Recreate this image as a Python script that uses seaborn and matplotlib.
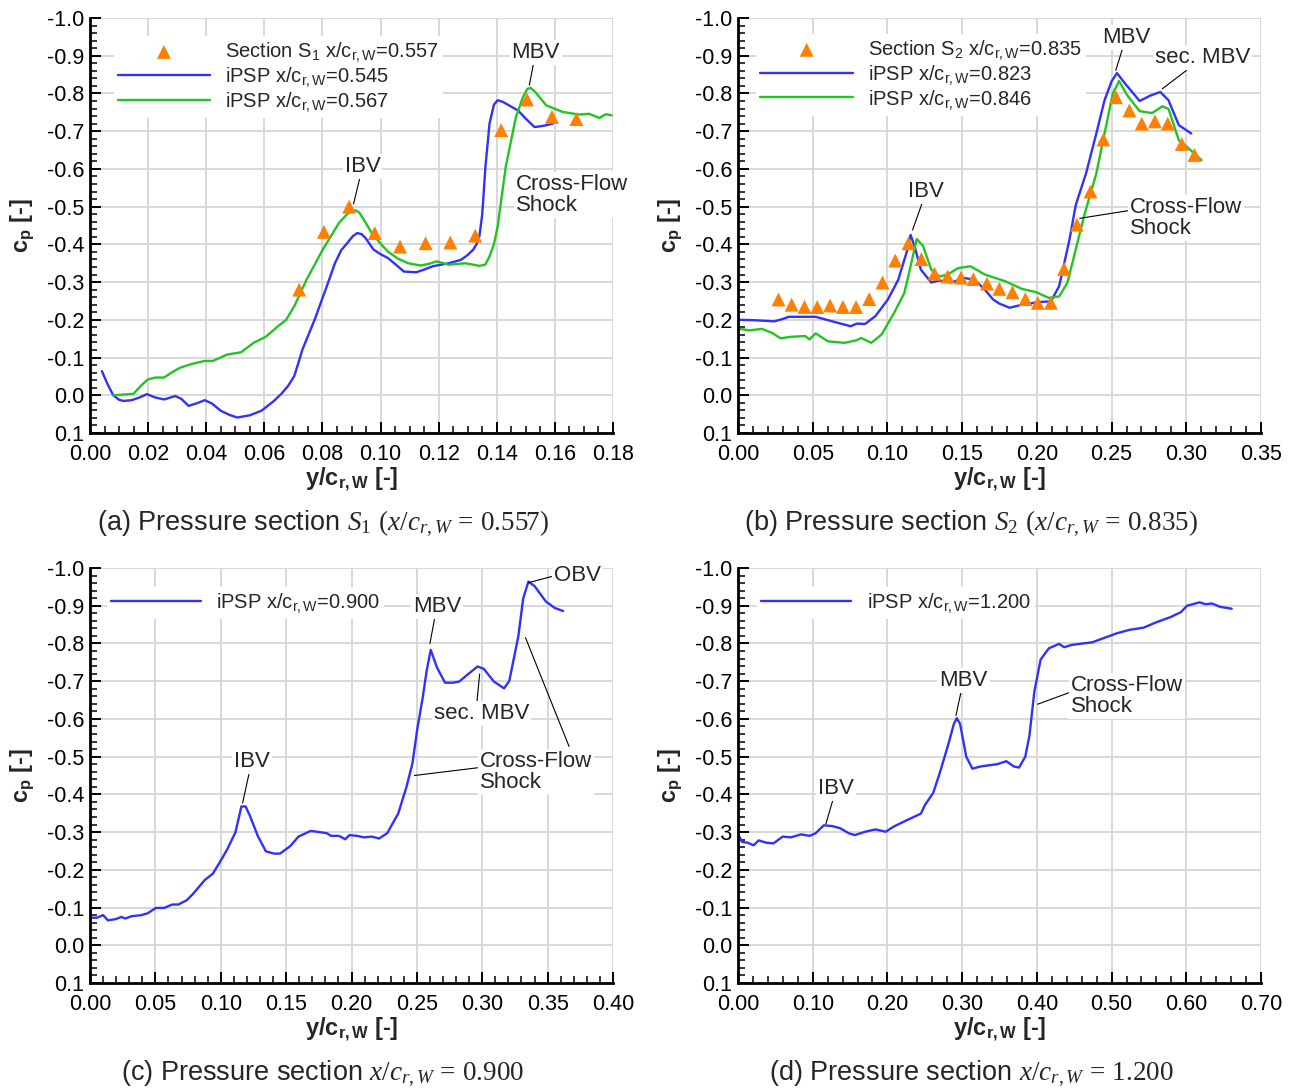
import numpy as np
import pandas as pd
import matplotlib
matplotlib.use("Agg")
import matplotlib.pyplot as plt
from matplotlib.ticker import MultipleLocator, FuncFormatter
import seaborn as sns

# ---------------- data ----------------
# Panel (a): section S1
a_blue_x = [0.0041, 0.006, 0.008, 0.0100, 0.0115, 0.0143, 0.017, 0.0196, 0.0225, 0.0255, 0.0294, 0.0315,
            0.0339, 0.0365, 0.0395, 0.042, 0.045, 0.048, 0.0507, 0.055, 0.059, 0.0633, 0.066, 0.0682,
            0.0703, 0.0717, 0.0731, 0.0773, 0.0815, 0.0843, 0.0865, 0.0885, 0.0905, 0.092, 0.0935,
            0.0948, 0.0976, 0.1, 0.1025, 0.105, 0.108, 0.1123, 0.115, 0.118, 0.1235, 0.1277, 0.130,
            0.1319, 0.133, 0.134, 0.135, 0.1361, 0.1375, 0.139, 0.1403, 0.142, 0.1473, 0.150, 0.153,
            0.156, 0.1593]
a_blue_y = [-0.064, -0.03, 0.0, 0.012, 0.015, 0.013, 0.006, -0.003, 0.006, 0.011, 0.002, 0.010,
            0.028, 0.022, 0.013, 0.022, 0.041, 0.052, 0.059, 0.053, 0.041, 0.015, -0.005, -0.025,
            -0.051, -0.085, -0.121, -0.2, -0.289, -0.35, -0.385, -0.403, -0.422, -0.43, -0.427,
            -0.417, -0.386, -0.374, -0.364, -0.348, -0.328, -0.326, -0.333, -0.342, -0.35, -0.359, -0.372,
            -0.386, -0.400, -0.421, -0.48, -0.606, -0.72, -0.77, -0.782, -0.778, -0.755, -0.733, -0.711,
            -0.714, -0.72]
a_green_x = [0.008, 0.015, 0.0175, 0.0199, 0.0225, 0.0255, 0.028, 0.031, 0.035, 0.0395, 0.0423, 0.0472,
             0.052, 0.0563, 0.0605, 0.0647, 0.0675, 0.0703, 0.0745, 0.0801, 0.0857, 0.0885, 0.0899,
             0.0915, 0.0927, 0.0945, 0.0969, 0.1, 0.1025, 0.106, 0.1095, 0.1137, 0.1165, 0.1193,
             0.1235, 0.1291, 0.132, 0.134, 0.136, 0.1375, 0.139, 0.1403, 0.1431, 0.1466, 0.149,
             0.1505, 0.1515, 0.153, 0.1571, 0.1627, 0.1683, 0.1718, 0.1753, 0.1775, 0.1795]
a_green_y = [0.0, -0.004, -0.025, -0.042, -0.047, -0.047, -0.06, -0.073, -0.083, -0.091, -0.091, -0.108,
             -0.114, -0.139, -0.155, -0.183, -0.2, -0.236, -0.306, -0.386, -0.457, -0.48, -0.488,
             -0.49, -0.484, -0.462, -0.431, -0.402, -0.381, -0.362, -0.35, -0.344, -0.348, -0.355,
             -0.346, -0.35, -0.346, -0.343, -0.346, -0.368, -0.40, -0.447, -0.606, -0.738, -0.79,
             -0.812, -0.815, -0.806, -0.768, -0.751, -0.744, -0.746, -0.735, -0.745, -0.742]
a_exp_x = [0.072, 0.0805, 0.0892, 0.098, 0.1067, 0.1155, 0.124, 0.1326, 0.1415, 0.1504, 0.159, 0.1674]
a_exp_y = [-0.28, -0.433, -0.5, -0.43, -0.394, -0.403, -0.405, -0.423, -0.703, -0.784, -0.738, -0.732]

# Panel (b): section S2
b_blue_x = [0.0008, 0.0105, 0.0243, 0.0298, 0.034, 0.052, 0.063, 0.0754, 0.0796, 0.085, 0.092,
            0.1003, 0.1072, 0.1127, 0.1155, 0.1182, 0.1224, 0.1293, 0.1348, 0.143, 0.1514,
            0.1583, 0.1652, 0.1707, 0.1749, 0.1818, 0.19, 0.201, 0.2094, 0.2149, 0.2218, 0.226,
            0.2329, 0.2398, 0.2453, 0.250, 0.2536, 0.2591, 0.2688, 0.2757, 0.2826, 0.2881, 0.295, 0.3033]
b_blue_y = [-0.2, -0.199, -0.196, -0.202, -0.208, -0.208, -0.196, -0.183, -0.19, -0.189, -0.21,
            -0.254, -0.306, -0.377, -0.425, -0.394, -0.333, -0.299, -0.304, -0.299, -0.311,
            -0.306, -0.28, -0.254, -0.243, -0.232, -0.24, -0.247, -0.249, -0.289, -0.412, -0.504,
            -0.588, -0.694, -0.782, -0.832, -0.854, -0.826, -0.78, -0.794, -0.804, -0.782, -0.716, -0.694]
b_green_x = [0.0008, 0.0077, 0.016, 0.0229, 0.0285, 0.0354, 0.045, 0.0478, 0.052, 0.0602, 0.0713,
             0.0796, 0.0823, 0.0892, 0.0961, 0.1044, 0.1113, 0.1155, 0.1196, 0.1238, 0.1293,
             0.1348, 0.1403, 0.1472, 0.1555, 0.1652, 0.179, 0.19, 0.1997, 0.208, 0.2149, 0.2204,
             0.226, 0.2315, 0.2398, 0.2453, 0.2508, 0.255, 0.2605, 0.2688, 0.2771, 0.284, 0.2881,
             0.295, 0.3006, 0.3102]
b_green_y = [-0.176, -0.172, -0.176, -0.165, -0.151, -0.155, -0.157, -0.148, -0.164, -0.143, -0.139,
             -0.146, -0.152, -0.139, -0.161, -0.218, -0.271, -0.342, -0.414, -0.396, -0.333,
             -0.315, -0.32, -0.337, -0.342, -0.32, -0.302, -0.282, -0.273, -0.258, -0.262, -0.298,
             -0.386, -0.474, -0.588, -0.694, -0.799, -0.833, -0.795, -0.753, -0.748, -0.766, -0.759,
             -0.676, -0.658, -0.623]
b_exp_x = [0.0271, 0.0359, 0.0445, 0.053, 0.0616, 0.0702, 0.079, 0.0878, 0.0967, 0.1052, 0.1141,
           0.1227, 0.1315, 0.1403, 0.1492, 0.1575, 0.1666, 0.1749, 0.1837, 0.1923, 0.2006, 0.2094,
           0.2182, 0.2268, 0.2359, 0.2445, 0.253, 0.2619, 0.2702, 0.279, 0.2876, 0.297, 0.3055]
b_exp_y = [-0.254, -0.24, -0.234, -0.234, -0.238, -0.234, -0.234, -0.255, -0.299, -0.357, -0.403,
           -0.361, -0.322, -0.315, -0.312, -0.308, -0.296, -0.282, -0.273, -0.255, -0.245, -0.245,
           -0.335, -0.452, -0.54, -0.678, -0.79, -0.755, -0.72, -0.726, -0.72, -0.666, -0.637]

# Panel (c): x/c = 0.900
c_x = [0.0, 0.0053, 0.01, 0.0137, 0.0193, 0.024, 0.0271, 0.0318, 0.0395, 0.0442, 0.0504, 0.0567,
       0.0629, 0.0676, 0.0738, 0.0785, 0.0878, 0.094, 0.1003, 0.1049, 0.1112, 0.1158, 0.119,
       0.1221, 0.1283, 0.1345, 0.1407, 0.1454, 0.1532, 0.1594, 0.1687, 0.1734, 0.1812, 0.1843,
       0.1905, 0.1952, 0.1984, 0.2046, 0.2092, 0.2155, 0.2211, 0.2273, 0.2357, 0.2419, 0.2466,
       0.2503, 0.2544, 0.2575, 0.2606, 0.2653, 0.2715, 0.2777, 0.2824, 0.2886, 0.2964, 0.3011,
       0.3089, 0.3167, 0.3207, 0.3276, 0.3313, 0.3353, 0.34, 0.3487, 0.3555, 0.3618]
c_y = [-0.073, -0.073, -0.08, -0.066, -0.069, -0.075, -0.071, -0.077, -0.08, -0.085, -0.099, -0.099,
       -0.108, -0.108, -0.119, -0.135, -0.173, -0.19, -0.226, -0.254, -0.299, -0.368, -0.368,
       -0.345, -0.29, -0.249, -0.243, -0.243, -0.263, -0.288, -0.303, -0.301, -0.297, -0.29,
       -0.29, -0.281, -0.292, -0.29, -0.286, -0.288, -0.283, -0.297, -0.349, -0.418, -0.482,
       -0.573, -0.655, -0.728, -0.783, -0.737, -0.696, -0.696, -0.699, -0.717, -0.739, -0.733,
       -0.699, -0.681, -0.701, -0.819, -0.919, -0.964, -0.952, -0.911, -0.894, -0.886]

# Panel (d): x/c = 1.200
d_x = [0.0006, 0.0055, 0.0127, 0.021, 0.0276, 0.0376, 0.0475, 0.0597, 0.0707, 0.0845, 0.0956,
       0.1039, 0.1149, 0.126, 0.137, 0.1481, 0.1564, 0.1702, 0.184, 0.1978, 0.2088, 0.2254,
       0.2448, 0.2503, 0.2613, 0.2696, 0.2807, 0.289, 0.2928, 0.2972, 0.3055, 0.3138, 0.3249,
       0.3359, 0.347, 0.3591, 0.3691, 0.3762, 0.3845, 0.39, 0.3967, 0.405, 0.416, 0.4298,
       0.4365, 0.4464, 0.4575, 0.474, 0.4906, 0.5072, 0.5238, 0.5431, 0.5597, 0.579, 0.5928,
       0.6011, 0.6177, 0.626, 0.6343, 0.6453, 0.6608]
d_y = [-0.292, -0.274, -0.272, -0.265, -0.278, -0.272, -0.27, -0.288, -0.286, -0.294, -0.29,
       -0.297, -0.318, -0.316, -0.31, -0.297, -0.292, -0.301, -0.307, -0.301, -0.315, -0.331,
       -0.349, -0.372, -0.404, -0.454, -0.527, -0.587, -0.602, -0.587, -0.5, -0.468, -0.474,
       -0.477, -0.48, -0.488, -0.474, -0.471, -0.5, -0.555, -0.673, -0.757, -0.787, -0.799,
       -0.79, -0.796, -0.799, -0.803, -0.815, -0.827, -0.836, -0.842, -0.856, -0.87, -0.883,
       -0.9, -0.909, -0.904, -0.906, -0.897, -0.892]

xmax = [0.18, 0.35, 0.40, 0.70]
xmajor = [0.02, 0.05, 0.05, 0.10]
xminor = [0.005, 0.01, 0.01, 0.02]

lab_a = ["Section S$_\\mathsf{1}$ x/c$_\\mathsf{r,W}$=0.557",
         "iPSP x/c$_\\mathsf{r,W}$=0.545", "iPSP x/c$_\\mathsf{r,W}$=0.567"]
lab_b = ["Section S$_\\mathsf{2}$ x/c$_\\mathsf{r,W}$=0.835",
         "iPSP x/c$_\\mathsf{r,W}$=0.823", "iPSP x/c$_\\mathsf{r,W}$=0.846"]
lab_c = "iPSP x/c$_\\mathsf{r,W}$=0.900"
lab_d = "iPSP x/c$_\\mathsf{r,W}$=1.200"
captions = ["(a) Pressure section $S_1$ $(x/c_{r,W}\\,=\\,0.557)$",
            "(b) Pressure section $S_2$ $(x/c_{r,W}\\,=\\,0.835)$",
            "(c) Pressure section $x/c_{r,W}\\,=\\,0.900$",
            "(d) Pressure section $x/c_{r,W}\\,=\\,1.200$"]

# ---------------- style ----------------
sns.set_theme(style="white")
plt.rcParams.update({
    "font.family": ["Liberation Sans", "DejaVu Sans"],
    "mathtext.fontset": "custom",
    "mathtext.rm": "Liberation Serif",
    "mathtext.it": "Liberation Serif:italic",
    "mathtext.bf": "Liberation Sans:bold",
    "mathtext.sf": "Liberation Sans",
    "axes.unicode_minus": False,
})

BLUE = "#3030ff"
GREEN = "#22c422"
ORANGE = "#ff8000"
GRID = "#d6d6d6"
TICK_FS = 15.5
ANN_FS = 16
LEG_FS = 14.5

W, H = 1298, 1092
fig = plt.figure(figsize=(W / 100, H / 100), dpi=100)
lefts = [90, 738, 90, 738]
bottoms = [433, 433, 983, 983]
axs = [fig.add_axes([l / W, 1 - b / H, 523 / W, 415 / H]) for l, b in zip(lefts, bottoms)]


def style(ax, i):
    ax.set_xlim(0, xmax[i])
    ax.set_ylim(0.1, -1.0)
    ax.xaxis.set_major_locator(MultipleLocator(xmajor[i]))
    ax.xaxis.set_minor_locator(MultipleLocator(xminor[i]))
    ax.yaxis.set_major_locator(MultipleLocator(0.1))
    ax.yaxis.set_minor_locator(MultipleLocator(0.02))
    ax.xaxis.set_major_formatter(FuncFormatter(lambda v, _: f"{v:.2f}"))
    ax.yaxis.set_major_formatter(FuncFormatter(lambda v, _: "0.0" if abs(v) < 1e-9 else f"{v:.1f}"))
    ax.grid(True, which="major", color=GRID, lw=1.3, zorder=0)
    ax.set_axisbelow(True)
    for s in ["top", "right"]:
        ax.spines[s].set_visible(False)
    for s in ["left", "bottom"]:
        ax.spines[s].set_color("black")
        ax.spines[s].set_linewidth(2)
        ax.spines[s].set_zorder(5)
    ax.tick_params(which="both", direction="in", left=True, bottom=True, top=False, right=False,
                   colors="black")
    ax.tick_params(which="major", length=8, width=1.4, labelsize=TICK_FS)
    ax.tick_params(which="minor", length=5, width=1.1)
    ax.tick_params(axis="x", which="major", pad=8)
    ax.tick_params(axis="y", which="major", pad=4)
    ax.set_xlabel("y/c$_{\\mathbf{r,W}}$ [-]", fontsize=17, fontweight="bold", labelpad=0)
    ax.set_ylabel("c$_\\mathbf{p}$ [-]", fontsize=17, fontweight="bold", labelpad=8)


def line(ax, x, y, color, label):
    sns.lineplot(x=x, y=y, sort=False, estimator=None, color=color, lw=1.7, ax=ax,
                 label=label, zorder=3)


def exp(ax, x, y, label):
    sns.scatterplot(x=x, y=y, marker="^", s=100, color=ORANGE, edgecolor="none", ax=ax,
                    label=label, zorder=4)


bbox = dict(facecolor="white", edgecolor="none", pad=1.5)


def ann(ax, text, xy, xytext, ha="center", relpos=(0.5, 0.5)):
    ax.annotate(text, xy=xy, xytext=xytext, ha=ha, va="center", fontsize=ANN_FS,
                linespacing=1.0, bbox=bbox, zorder=6,
                arrowprops=dict(arrowstyle="-", lw=0.8, color="black", shrinkA=0, shrinkB=0,
                                relpos=relpos))


def legend(ax, order, anchor, handlelength=4.6):
    h, l = ax.get_legend_handles_labels()
    h = [h[k] for k in order]
    l = [l[k] for k in order]
    leg = ax.legend(h, l, loc="upper left", bbox_to_anchor=anchor, fontsize=LEG_FS,
                    frameon=True, facecolor="white", edgecolor="none", framealpha=1,
                    fancybox=False, borderpad=0.2, borderaxespad=0, handlelength=handlelength,
                    handletextpad=0.75, labelspacing=0.04, scatterpoints=1)
    leg.set_zorder(7)


# (a)
ax = axs[0]
style(ax, 0)
line(ax, a_blue_x, a_blue_y, BLUE, lab_a[1])
line(ax, a_green_x, a_green_y, GREEN, lab_a[2])
exp(ax, a_exp_x, a_exp_y, lab_a[0])
legend(ax, [2, 0, 1], (0.045, 0.956))
ann(ax, "MBV", (0.1512, -0.822), (0.1534, -0.909))
ann(ax, "IBV", (0.0907, -0.507), (0.0938, -0.606))
ax.text(0.1465, -0.53, "Cross-Flow\nShock", ha="left", va="center", fontsize=ANN_FS,
        linespacing=1.0, bbox=bbox, zorder=6)

# (b)
ax = axs[1]
style(ax, 1)
line(ax, b_blue_x, b_blue_y, BLUE, lab_b[1])
line(ax, b_green_x, b_green_y, GREEN, lab_b[2])
exp(ax, b_exp_x, b_exp_y, lab_b[0])
legend(ax, [2, 0, 1], (0.035, 0.961))
ann(ax, "MBV", (0.2528, -0.861), (0.2597, -0.949))
ann(ax, "sec. MBV", (0.284, -0.8125), (0.311, -0.894))
ann(ax, "IBV", (0.1168, -0.438), (0.126, -0.54))
ann(ax, "Cross-Flow\nShock", (0.2287, -0.469), (0.2624, -0.47), ha="left", relpos=(0, 0.68))

# (c)
ax = axs[2]
style(ax, 2)
line(ax, c_x, c_y, BLUE, lab_c)
legend(ax, [0], (0.032, 0.955), handlelength=4.5)
ann(ax, "OBV", (0.3353, -0.961), (0.3727, -0.979), relpos=(0, 0.5))
ann(ax, "MBV", (0.26, -0.8), (0.2653, -0.899))
ann(ax, "sec. MBV", (0.298, -0.719), (0.2995, -0.614), relpos=(0.45, 1))
ann(ax, "IBV", (0.1167, -0.377), (0.1236, -0.486))
ann(ax, "Cross-Flow\nShock", (0.2481, -0.45), (0.298, -0.46), ha="left", relpos=(0, 0.6))
ax.annotate("", xy=(0.3331, -0.815), xytext=(0.3664, -0.527),
            arrowprops=dict(arrowstyle="-", lw=0.8, color="black", shrinkA=0, shrinkB=0))

# (d)
ax = axs[3]
style(ax, 3)
line(ax, d_x, d_y, BLUE, lab_d)
legend(ax, [0], (0.036, 0.955), handlelength=4.5)
ann(ax, "MBV", (0.2917, -0.609), (0.3017, -0.701))
ann(ax, "IBV", (0.1177, -0.322), (0.1315, -0.416))
ann(ax, "Cross-Flow\nShock", (0.4011, -0.639), (0.4453, -0.66), ha="left", relpos=(0, 0.6))

# captions
for (cx, cy), txt in zip([(323, 524), (971, 524), (323, 1074), (971, 1074)], captions):
    fig.text(cx / W, 1 - cy / H, txt, ha="center", va="center", fontsize=19.5)

fig.savefig("out.png", dpi=100)
